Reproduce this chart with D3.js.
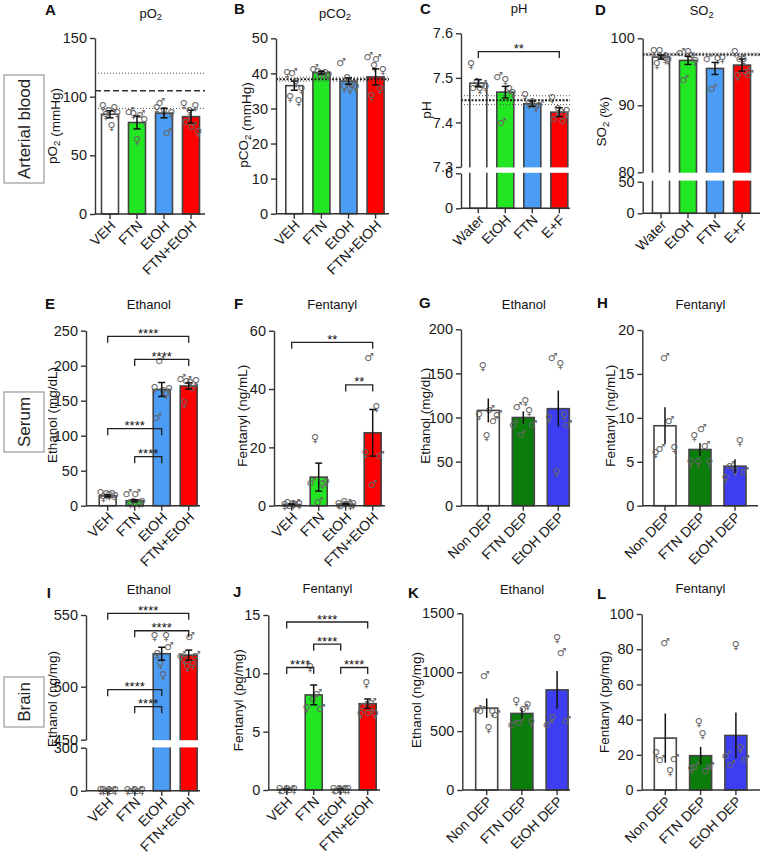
<!DOCTYPE html>
<html>
<head>
<meta charset="utf-8">
<script src="https://cdn.jsdelivr.net/npm/d3@7"></script>
<style>
  body { margin: 0; background: #fff; }
  svg text { font-family: "Liberation Sans", Arial, sans-serif; }
</style>
</head>
<body>
<svg id="fig" width="764" height="855"></svg>
<script>
// ---------- data ----------
const groups4 = ["VEH", "FTN", "EtOH", "FTN+EtOH"];
const groupsPh = ["Water", "EtOH", "FTN", "E+F"];
const groupsDep = ["Non DEP", "FTN DEP", "EtOH DEP"];
const colors4 = ["#ffffff", "#22e622", "#4b9cf5", "#ff0000"];
const colorsDep = ["#ffffff", "#0a7d0a", "#3d3df2"];

// A pO2
const meanA = [85, 78, 86, 83];
const semA = [3, 5.5, 4, 5.5];
const ptsA = [[92, 84, 88, 75, 90, 86], [88, 85, 63, 85, 80], [90, 95, 88, 70, 86], [94, 79, 88, 75, 92, 70]];
const sexA = ["ffffff", "mffmf", "fmfmf", "fmfmff"];
// B pCO2
const meanB = [36.5, 40.2, 37.8, 39.0];
const semB = [1.3, 0.4, 0.9, 2.3];
const ptsB = [[40, 33.2, 40.4, 37.5, 32, 35.5], [41.5, 40.3, 39.8, 40, 39.6], [43.3, 36, 38.6, 35.5, 37, 36.2], [44.8, 33.6, 42.2, 44.2, 35.5, 41]];
const sexB = ["ffmfff", "mffff", "mfffmf", "mffmff"];
// C pH
const meanC = [7.488, 7.468, 7.442, 7.423];
const semC = [0.008, 0.013, 0.006, 0.01];
const ptsC = [[7.53, 7.48, 7.49, 7.475, 7.485, 7.48], [7.503, 7.40, 7.495, 7.475, 7.465], [7.462, 7.44, 7.445, 7.435, 7.44], [7.454, 7.41, 7.43, 7.42, 7.405, 7.425]];
const sexC = ["fmffmf", "mmfff", "ffffm", "fmfmmf"];
// D SO2
const meanD = [97.2, 96.7, 95.5, 96.0];
const semD = [0.3, 0.6, 0.9, 0.9];
const ptsD = [[98.1, 96.2, 98.1, 97.4, 96.9, 96.8], [98.0, 93.9, 98.0, 97.3, 96.6], [97.0, 92.5, 96.9, 97.1], [98.0, 94.4, 97.0, 96.7, 95.1, 94.6]];
const sexD = ["fffmff", "mmfff", "mmff", "ffmfmm"];
// E serum ethanol
const meanE = [14, 7, 166, 171];
const semE = [1.5, 1.5, 10, 4.5];
const ptsE = [[18, 12, 16, 15, 17, 14], [18, 4, 5, 18, 4, 5], [168, 127, 208, 163, 160, 166], [182, 146, 180, 175, 170, 178]];
const sexE = ["ffffff", "mffmff", "fmmfff", "mfmfmf"];
const bracketsE = [[0, 3, 242, "****"], [1, 3, 209, "****"], [0, 2, 110, "****"], [1, 2, 70, "****"]];
// F serum fentanyl
const meanF = [0.4, 9.8, 0.5, 25];
const semF = [0.2, 4.8, 0.2, 8];
const ptsF = [[0.3, 0.8, 0.2, 0.6, 1.0, 0.4], [8.2, 23.1, 1.4, 7.4, 8.0], [0.6, 0.3, 1.2, 0.8, 0.2, 0.5], [18, 51, 7.4, 33.9, 17.2]];
const sexF = ["ffmfmf", "mfmff", "fmfmff", "fmmfm"];
const bracketsF = [[0, 3, 56, "**"], [2, 3, 41.4, "**"]];
// G serum ethanol (dependence)
const meanG = [108, 100, 110];
const semG = [13.5, 7, 20.5];
const ptsG = [[103, 158, 79, 110, 97, 104], [93, 113, 81, 119, 107, 92], [99, 168, 38.6, 161, 103, 93]];
const sexG = ["fffmmm", "mmmffm", "fmfffm"];
// H serum fentanyl (dependence)
const meanH = [9.1, 6.4, 4.5];
const semH = [2.1, 0.75, 0.8];
const ptsH = [[6.0, 6.5, 16.9, 9.7, 6.5], [5.0, 7.9, 5.0, 8.8, 6.9, 5.0], [3.1, 4.6, 3.9, 7.3, 3.9]];
const sexH = ["fmmmf", "fffmmf", "fmffm"];
// I brain ethanol
const meanI = [0.5, 0.5, 523, 522];
const semI = [0.2, 0.2, 4.5, 3.5];
const ptsI = [[0.5, 0.4, 0.6, 0.5, 0.4, 0.6], [0.5, 0.4, 0.6, 0.5, 0.4], [535, 523, 515.6, 508, 535, 528], [522, 518.6, 513.5, 535, 516, 522]];
const sexI = ["ffmfmf", "fmfmf", "fffffm", "mffmfm"];
const bracketsI = [[0, 3, 551.2, "****"], [1, 3, 539, "****"], [0, 2, 497.2, "****"], [1, 2, 481.2, "****"]];
// J brain fentanyl
const meanJ = [0.05, 8.15, 0.05, 7.4];
const semJ = [0.02, 0.85, 0.02, 0.4];
const ptsJ = [[0.05, 0.03, 0.06, 0.05, 0.04], [7.0, 10.57, 7.86, 8.3, 7.0], [0.05, 0.03, 0.06, 0.05, 0.04, 0.05], [6.5, 7.3, 9.14, 6.7, 7.57, 6.5]];
const sexJ = ["fmfmf", "ffmmm", "fmfmff", "fmfmmf"];
const bracketsJ = [[0, 3, 14.4, "****"], [1, 2, 12.5, "****"], [0, 1, 10.5, "****"], [2, 3, 10.5, "****"]];
// K brain ethanol (dependence)
const meanK = [695, 650, 850];
const semK = [82, 45, 160];
const ptsK = [[688, 680, 976, 523, 660, 643], [558, 756, 580, 694, 722, 580], [558, 609, 1293, 1169, 594]];
const sexK = ["mmmffm", "mfmmff", "mffmm"];
// L brain fentanyl (dependence)
const meanL = [29.5, 19.5, 31];
const semL = [14, 5, 13];
const ptsL = [[21, 17.4, 84, 10.8, 18], [11.6, 13.6, 38.6, 31.8, 11.4, 13.6], [19.9, 14.6, 82.4, 23.7, 17.4]];
const sexL = ["fmmfm", "fmffmm", "mmffm"];

// ---------- drawing ----------
const svg = d3.select("#fig");
const AXIS = "#333";
// text-presentation selector keeps the symbols from turning into colour emoji
const glyph = { f: "\u2640\uFE0E", m: "\u2642\uFE0E" };

function rich(sel, str) {
  // "_{2}" marks a subscript
  str.split(/(_\{[^}]*\})/).filter(s => s.length).forEach(part => {
    if (part.startsWith("_{")) {
      sel.append("tspan").attr("font-size", "0.72em").attr("dy", "0.3em").text(part.slice(2, -1));
      sel.append("tspan").attr("dy", "-0.3em").text("");
    } else {
      sel.append("tspan").text(part);
    }
  });
}

function styleAxis(a) {
  a.selectAll("path, line").attr("stroke", AXIS).attr("stroke-width", 1.4);
  a.selectAll("text").attr("fill", "#1a1a1a").style("font-size", "14.5px");
}

function drawPanel(p) {
  const g = svg.append("g");
  const n = p.groups.length;
  const pad = 1 - p.barW / p.step;
  const x = d3.scaleBand().domain(p.groups)
    .range([p.c0 - p.step / 2, p.c0 - p.step / 2 + n * p.step])
    .paddingInner(pad).paddingOuter(pad / 2);
  const cx = i => x(p.groups[i]) + x.bandwidth() / 2;

  const segs = p.segments.map(s => ({ ...s, scale: d3.scaleLinear().domain(s.domain).range(s.range) }));
  const y = v => {
    for (let i = segs.length - 1; i >= 0; i--) {
      if (i === 0 || v >= segs[i].domain[0]) return segs[i].scale(v);
    }
  };
  const y0 = segs[0].range[0];

  // bars
  g.append("g").selectAll("rect").data(p.mean).join("rect")
    .attr("x", (d, i) => x(p.groups[i]))
    .attr("width", x.bandwidth())
    .attr("y", d => y(d))
    .attr("height", d => y0 - y(d))
    .attr("fill", (d, i) => p.colors[i])
    .attr("stroke", "#444")
    .attr("stroke-width", 1.6);

  // axis break
  if (p.gap) {
    g.append("rect").attr("x", p.ax + 1).attr("width", p.xEnd - p.ax)
      .attr("y", p.gap[0]).attr("height", p.gap[1] - p.gap[0]).attr("fill", "#fff");
  }

  // normal-range reference lines
  (p.refs || []).forEach(([v, kind]) => {
    const st = {
      dot: { c: "#555", w: 1, d: "1,2" },
      dash: { c: "#333", w: 1.6, d: "6,3" },
      thick: { c: "#222", w: 2, d: "2,1.5" }
    }[kind];
    g.append("line").attr("x1", p.ax).attr("x2", p.xEnd)
      .attr("y1", y(v)).attr("y2", y(v))
      .attr("stroke", st.c).attr("stroke-width", st.w).attr("stroke-dasharray", st.d);
  });

  // individual animals
  p.pts.forEach((arr, i) => {
    const m = arr.length;
    const spread = p.barW * 0.85;
    g.append("g").selectAll("text").data(arr).join("text")
      .attr("x", (d, j) => cx(i) + (m > 1 ? (j / (m - 1) - 0.5) * spread : 0))
      .attr("y", d => y(d))
      .attr("dy", "0.35em")
      .attr("text-anchor", "middle")
      .style("font-family", "DejaVu Sans")
      .style("font-size", "11px")
      .attr("fill", "#666")
      .text((d, j) => glyph[p.sex[i][j]]);
  });

  // error bars (mean ± SEM)
  const eb = g.append("g").attr("stroke", "#111").attr("stroke-width", 1.5);
  p.mean.forEach((mv, i) => {
    const lo = y(mv - p.sem[i]), hi = y(mv + p.sem[i]);
    eb.append("line").attr("x1", cx(i)).attr("x2", cx(i)).attr("y1", lo).attr("y2", hi);
    if (p.cap) {
      eb.append("line").attr("x1", cx(i) - p.cap / 2).attr("x2", cx(i) + p.cap / 2).attr("y1", hi).attr("y2", hi);
      eb.append("line").attr("x1", cx(i) - p.cap / 2).attr("x2", cx(i) + p.cap / 2).attr("y1", lo).attr("y2", lo);
    }
  });

  // significance brackets
  (p.brackets || []).forEach(([a, b, v, lab]) => {
    const yy = y(v);
    g.append("path")
      .attr("d", `M${cx(a)},${yy + 6.5}V${yy}H${cx(b)}V${yy + 6.5}`)
      .attr("fill", "none").attr("stroke", "#222").attr("stroke-width", 1.3);
    g.append("text").attr("x", (cx(a) + cx(b)) / 2).attr("y", yy + 1.5)
      .attr("text-anchor", "middle").style("font-size", "13px").attr("fill", "#111").text(lab);
  });

  // y axis (one piece per segment)
  segs.forEach(s => {
    const a = g.append("g").attr("transform", `translate(${p.ax},0)`)
      .call(d3.axisLeft(s.scale).tickValues(s.ticks).tickSize(5).tickSizeOuter(0).tickFormat(d => String(d)));
    styleAxis(a);
  });

  // x axis
  const xa = g.append("g").attr("transform", `translate(0,${y0})`)
    .call(d3.axisBottom(x).tickSize(5).tickSizeOuter(0));
  xa.select(".domain").remove();
  xa.append("line").attr("x1", p.ax).attr("x2", p.xEnd);
  styleAxis(xa);
  xa.selectAll(".tick text")
    .attr("x", 0).attr("y", 0).attr("dy", "0.35em")
    .attr("transform", "translate(3,9) rotate(-45)")
    .style("text-anchor", "end")
    .style("font-size", "14px");

  // labels
  svg.append("text").attr("x", p.letter[0]).attr("y", p.letter[1])
    .style("font-size", "15px").style("font-weight", "bold").attr("fill", "#111").text(p.id);
  const t = svg.append("text").attr("x", p.title[0]).attr("y", p.title[1])
    .attr("text-anchor", "middle").style("font-size", "13px").attr("fill", "#111");
  rich(t, p.titleText);
  const yl = svg.append("text")
    .attr("transform", `translate(${p.ylab[0]},${p.ylab[1]}) rotate(-90)`)
    .attr("text-anchor", "middle").attr("dy", "0.35em")
    .style("font-size", "13.5px").attr("fill", "#111");
  rich(yl, p.ylabText);
}

function rowLabel(text, x0, y0, x1, y1) {
  svg.append("rect").attr("x", x0).attr("y", y0).attr("width", x1 - x0).attr("height", y1 - y0)
    .attr("fill", "#fff").attr("stroke", "#999").attr("stroke-width", 1.2);
  svg.append("text")
    .attr("transform", `translate(${(x0 + x1) / 2},${(y0 + y1) / 2}) rotate(-90)`)
    .attr("text-anchor", "middle").attr("dy", "0.35em")
    .style("font-size", "17px").attr("fill", "#222").text(text);
}

const panels = [
  { id: "A", groups: groups4, colors: colors4, mean: meanA, sem: semA, pts: ptsA, sex: sexA,
    ax: 95, xEnd: 205, c0: 110, step: 27, barW: 17, cap: 7,
    segments: [{ domain: [0, 150], range: [214, 38], ticks: [0, 50, 100, 150] }],
    refs: [[120, "dot"], [105, "dash"], [90, "dot"]],
    letter: [45, 15], title: [150.7, 17.5], titleText: "pO_{2}", ylab: [52.5, 126], ylabText: "pO_{2} (mmHg)" },
  { id: "B", groups: groups4, colors: colors4, mean: meanB, sem: semB, pts: ptsB, sex: sexB,
    ax: 276, xEnd: 389, c0: 294.3, step: 27.1, barW: 17, cap: 7,
    segments: [{ domain: [0, 50], range: [213.7, 38.3], ticks: [0, 10, 20, 30, 40, 50] }],
    refs: [[38.9, "dot"], [38.3, "thick"], [37.8, "dot"]],
    letter: [234, 14], title: [335, 17.5], titleText: "pCO_{2}", ylab: [243, 125], ylabText: "pCO_{2} (mmHg)" },
  { id: "C", groups: groupsPh, colors: colors4, mean: meanC, sem: semC, pts: ptsC, sex: sexC,
    ax: 461, xEnd: 570, c0: 478.3, step: 27, barW: 17, cap: 7,
    segments: [{ domain: [0, 6], range: [208.3, 173.3], ticks: [0, 6] },
               { domain: [7.3, 7.6], range: [167, 33.3], ticks: [7.3, 7.4, 7.5, 7.6] }],
    gap: [167.4, 172.8],
    refs: [[7.46, "dot"], [7.45, "thick"], [7.44, "dot"]],
    brackets: [[0, 3, 7.559, "**"]],
    letter: [420, 14], title: [519, 13], titleText: "pH", ylab: [426.7, 110], ylabText: "pH" },
  { id: "D", groups: groupsPh, colors: colors4, mean: meanD, sem: semD, pts: ptsD, sex: sexD,
    ax: 642.7, xEnd: 760, c0: 661, step: 27, barW: 17, cap: 7,
    segments: [{ domain: [0, 50], range: [213.3, 181.7], ticks: [0, 50] },
               { domain: [80, 100], range: [172.3, 38.3], ticks: [80, 90, 100] }],
    gap: [172.7, 180.6],
    refs: [[97.8, "dot"], [97.6, "thick"], [97.4, "dot"]],
    letter: [595, 15], title: [701.7, 15], titleText: "SO_{2}", ylab: [601.7, 121.7], ylabText: "SO_{2} (%)" },

  { id: "E", groups: groups4, colors: colors4, mean: meanE, sem: semE, pts: ptsE, sex: sexE,
    ax: 86, xEnd: 200, c0: 107.7, step: 27, barW: 17, cap: 7,
    segments: [{ domain: [0, 250], range: [505.7, 330.7], ticks: [0, 50, 100, 150, 200, 250] }],
    brackets: bracketsE,
    letter: [45, 309], title: [148.8, 309], titleText: "Ethanol", ylab: [52, 415], ylabText: "Ethanol (mg/dL)" },
  { id: "F", groups: groups4, colors: colors4, mean: meanF, sem: semF, pts: ptsF, sex: sexF,
    ax: 274, xEnd: 385, c0: 291.7, step: 27, barW: 17, cap: 7,
    segments: [{ domain: [0, 60], range: [505.7, 330.7], ticks: [0, 20, 40, 60] }],
    brackets: bracketsF,
    letter: [234, 309], title: [332.3, 309], titleText: "Fentanyl", ylab: [242.5, 415.8], ylabText: "Fentanyl (ng/mL)" },
  { id: "G", groups: groupsDep, colors: colorsDep, mean: meanG, sem: semG, pts: ptsG, sex: sexG,
    ax: 461, xEnd: 570, c0: 488.3, step: 35, barW: 22, cap: 0,
    segments: [{ domain: [0, 200], range: [505.7, 329.3], ticks: [0, 50, 100, 150, 200] }],
    letter: [419, 308], title: [523.8, 309], titleText: "Ethanol", ylab: [425.5, 415.8], ylabText: "Ethanol (mg/dL)" },
  { id: "H", groups: groupsDep, colors: colorsDep, mean: meanH, sem: semH, pts: ptsH, sex: sexH,
    ax: 642.3, xEnd: 758, c0: 665, step: 35, barW: 22, cap: 0,
    segments: [{ domain: [0, 20], range: [505.7, 330], ticks: [0, 5, 10, 15, 20] }],
    letter: [597, 308], title: [700.5, 309], titleText: "Fentanyl", ylab: [610, 415.8], ylabText: "Fentanyl (ng/mL)" },

  { id: "I", groups: groups4, colors: colors4, mean: meanI, sem: semI, pts: ptsI, sex: sexI,
    ax: 86, xEnd: 200, c0: 107.7, step: 27, barW: 17, cap: 7,
    segments: [{ domain: [0, 300], range: [790.7, 747.7], ticks: [0, 300] },
               { domain: [450, 500, 550], range: [739.7, 686.7, 615], ticks: [450, 500, 550] }],
    gap: [740.2, 747.4],
    brackets: bracketsI,
    letter: [46.7, 598], title: [148.8, 594.3], titleText: "Ethanol", ylab: [52, 699], ylabText: "Ethanol (ng/mg)" },
  { id: "J", groups: groups4, colors: colors4, mean: meanJ, sem: semJ, pts: ptsJ, sex: sexJ,
    ax: 268.3, xEnd: 380, c0: 286.7, step: 27, barW: 17, cap: 7,
    segments: [{ domain: [0, 15], range: [790, 615], ticks: [0, 5, 10, 15] }],
    brackets: bracketsJ,
    letter: [233, 597], title: [327.5, 593], titleText: "Fentanyl", ylab: [238.3, 700.3], ylabText: "Fentanyl (pg/mg)" },
  { id: "K", groups: groupsDep, colors: colorsDep, mean: meanK, sem: semK, pts: ptsK, sex: sexK,
    ax: 462.3, xEnd: 570, c0: 486.7, step: 35.2, barW: 22, cap: 0,
    segments: [{ domain: [0, 1500], range: [790, 613.3], ticks: [0, 500, 1000, 1500] }],
    letter: [408, 598], title: [522, 594], titleText: "Ethanol", ylab: [416.7, 700], ylabText: "Ethanol (ng/mg)" },
  { id: "L", groups: groupsDep, colors: colorsDep, mean: meanL, sem: semL, pts: ptsL, sex: sexL,
    ax: 641.7, xEnd: 760, c0: 665.3, step: 35.3, barW: 22, cap: 0,
    segments: [{ domain: [0, 100], range: [790, 614], ticks: [0, 20, 40, 60, 80, 100] }],
    letter: [597, 599], title: [700.5, 593], titleText: "Fentanyl", ylab: [604, 702], ylabText: "Fentanyl (pg/mg)" }
];

panels.forEach(drawPanel);

rowLabel("Arterial blood", 4, 75, 44, 183);
rowLabel("Serum", 4, 392, 44, 452);
rowLabel("Brain", 4, 677, 44, 727);
</script>
</body>
</html>
